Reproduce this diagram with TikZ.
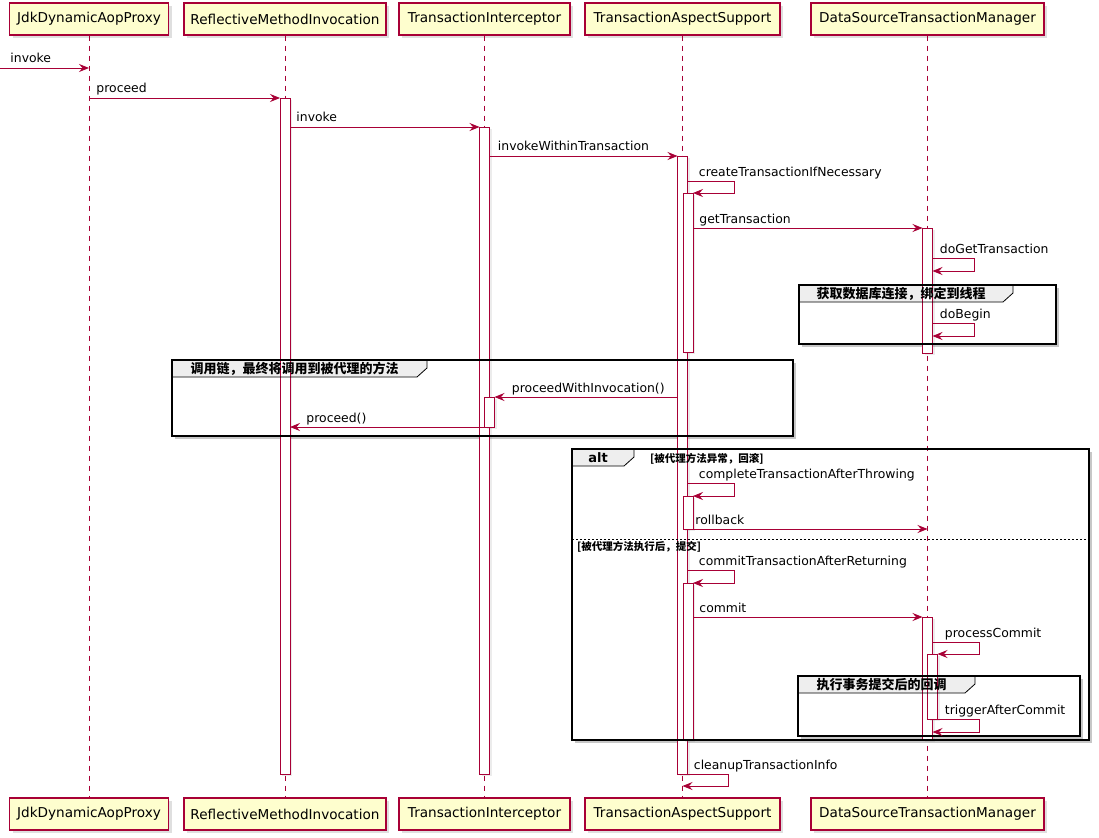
\documentclass[tikz,border=0pt]{standalone}
\usepackage{fontspec}
\setmainfont{DejaVu Sans}
\newfontfamily\cjkfont{Noto Sans CJK SC}
\definecolor{seqred}{HTML}{A80036}
\definecolor{partfill}{HTML}{FEFECE}
\definecolor{tabgrey}{HTML}{EEEEEE}
\usetikzlibrary{arrows.meta}
\usetikzlibrary{calc}
\usetikzlibrary{shadows}
\tikzstyle{part}=[draw=seqred, fill=partfill, line width=1.1pt, minimum height=32pt, inner sep=0pt, font=\fontsize{13.6}{16}\selectfont, drop shadow={shadow xshift=3pt, shadow yshift=-3pt, opacity=0.25}]
\tikzstyle{lifeline}=[draw=seqred, line width=0.7pt, dash pattern=on 5pt off 5pt]
\tikzstyle{actbar}=[draw=seqred, fill=white, line width=0.9pt, minimum width=10pt, inner sep=0pt, outer sep=0pt, drop shadow={shadow xshift=2pt, shadow yshift=-2pt, opacity=0.15}]
\tikzstyle{msg}=[draw=seqred, line width=0.9pt, -{Stealth[length=10pt, width=8pt, inset=3.5pt]}]
\tikzstyle{msglbl}=[anchor=base west, inner sep=0pt, text=black, font=\fontsize{12.4}{14}\selectfont, yshift=5pt]
\tikzstyle{grplbl}=[inner sep=0pt, font=\cjkfont\bfseries\fontsize{13}{15}\selectfont]
\tikzstyle{guard}=[anchor=west, inner sep=0pt, font=\cjkfont\bfseries\fontsize{10.5}{12}\selectfont]
% activation bar: name, x, top, bottom
\newcommand{\actbar}[4]{\node[actbar, minimum height={#4-#3}] (#1) at (#2,{(#3+#4)/2}) {};}
% group background: x0, y0, x1, y1, tab right
\newcommand{\grpback}[5]{%
  \fill[black, opacity=0.22] (#1+3,#2+3) rectangle (#3+3,#4+3);
  \fill[white] (#1,#2) rectangle (#3,#4);
  \fill[tabgrey] (#1,#2) -- (#5,#2) -- (#5,#2+8) -- (#5-10,#2+17) -- (#1,#2+17) -- cycle;}
% group frame: x0, y0, x1, y1, tab right, name, label
\newcommand{\grpframe}[7]{%
  \draw[black, line width=1.5pt] (#1,#2) rectangle (#3,#4);
  \draw[black, line width=0.8pt] (#5,#2) -- (#5,#2+8) -- (#5-10,#2+17) -- (#1,#2+17);
  \node[grplbl] (#6) at ({(#1+#5-10)/2},#2+8.5) {#7};}

\begin{document}
\begin{tikzpicture}[x=1pt, y=-1pt]
    \useasboundingbox (0,0) rectangle (1099,837);

    % group boxes, behind everything
    \grpback{799}{285}{1056}{344}{1013}
    \grpback{172}{360}{793}{436}{427}
    \grpback{572}{449}{1089}{740}{634}
    \grpback{798}{676}{1080}{736}{975}

    % participants
    \node [part, minimum width=159pt] (jdk) at (89,19) {JdkDynamicAopProxy};
    \node [part, minimum width=202pt] (rmi) at (285,19) {ReflectiveMethodInvocation};
    \node [part, minimum width=171pt] (ti) at (484.5,19) {TransactionInterceptor};
    \node [part, minimum width=195pt] (tas) at (682.5,19) {TransactionAspectSupport};
    \node [part, minimum width=233pt] (dstm) at (927.5,19) {DataSourceTransactionManager};
    \node [part, minimum width=159pt] (jdkB) at (89,814) {JdkDynamicAopProxy};
    \node [part, minimum width=202pt] (rmiB) at (285,814) {ReflectiveMethodInvocation};
    \node [part, minimum width=171pt] (tiB) at (484.5,814) {TransactionInterceptor};
    \node [part, minimum width=195pt] (tasB) at (682.5,814) {TransactionAspectSupport};
    \node [part, minimum width=233pt] (dstmB) at (927.5,814) {DataSourceTransactionManager};

    \foreach \p in {jdk, rmi, ti, tas, dstm}
        \draw [lifeline] (\p.south) -- (\p B.north);

    % activations
    \actbar{a1}{285}{98}{774}
    \actbar{a2}{484.5}{127}{774}
    \actbar{a3}{682.5}{156}{774}
    \actbar{a4}{688}{193}{352}
    \actbar{a5}{927.5}{228}{353}
    \actbar{a6}{489.5}{397}{427}
    \actbar{a7}{688}{496}{529}
    \actbar{a8}{688}{583}{740}
    \actbar{a9}{927.5}{617}{740}
    \actbar{a10}{932.5}{654}{719}

    % frames and their labels
    \grpframe{799}{285}{1056}{344}{1013}{g1}{获取数据库连接，绑定到线程}
    \grpframe{172}{360}{793}{436}{427}{g2}{调用链，最终将调用到被代理的方法}
    \grpframe{572}{449}{1089}{740}{634}{g3}{}
    \grpframe{798}{676}{1080}{736}{975}{g4}{执行事务提交后的回调}
    \node [inner sep=0pt, font=\bfseries\fontsize{13}{15}\selectfont] (alt) at (g3) {alt};
    \node [guard] (guard1) at (650,459) {[被代理方法异常，回滚]};
    \draw [black, line width=0.6pt, dash pattern=on 2pt off 2pt] (572,539) -- (1089,539);
    \node [guard] (guard2) at (577,546.5) {[被代理方法执行后，提交]};

    % messages
    \coordinate (entry) at (0,68);
    \draw [msg] (entry) -- (entry -| jdk) node [msglbl, at start, xshift=10pt] (m1) {invoke};
    \draw [msg] (jdk |- a1.north) -- (a1.north west) node [msglbl, at start, xshift=7pt] (m2) {proceed};
    \draw [msg] (a1.east |- a2.north) -- (a2.north west) node [msglbl, at start, xshift=6pt] (m3) {invoke};
    \draw [msg] (a2.east |- a3.north) -- (a3.north west) node [msglbl, at start, xshift=8pt] (m4) {invokeWithinTransaction};
    \draw [msg] ($(a4.north -| a3.east)+(0,-12)$) node [msglbl, xshift=11pt] (m5) {createTransactionIfNecessary} -- ++(47,0) |- (a4.north east);
    \draw [msg] (a4.east |- a5.north) -- (a5.north west) node [msglbl, at start, xshift=6pt] (m6) {getTransaction};
    \coordinate (dgt) at (a5.east |- 0,258);
    \draw [msg] (dgt) node [msglbl, xshift=7pt] (m7) {doGetTransaction} -- ++(42,0) -- ++(0,13) -- ($(dgt)+(0,13)$);
    \coordinate (dbg) at (a5.east |- 0,323);
    \draw [msg] (dbg) node [msglbl, xshift=7pt] (m8) {doBegin} -- ++(42,0) -- ++(0,13) -- ($(dbg)+(0,13)$);
    \draw [msg] (a3.west |- a6.north) -- (a6.north east) node [msglbl, at end, xshift=17pt] (m9) {proceedWithInvocation()};
    \draw [msg] (a6.south west) -- (a1.east |- a6.south) node [msglbl, at end, xshift=16pt] (m10) {proceed()};

    % alt
    \draw [msg] ($(a7.north -| a3.east)+(0,-13)$) node [msglbl, xshift=11pt] (m11) {completeTransactionAfterThrowing} -- ++(47,0) |- (a7.north east);
    \draw [msg] (a7.south east) -- (dstm |- a7.south) node [msglbl, at start, xshift=2pt] (m12) {rollback};
    \draw [msg] ($(a8.north -| a3.east)+(0,-13)$) node [msglbl, xshift=11pt] (m13) {commitTransactionAfterReturning} -- ++(47,0) |- (a8.north east);
    \draw [msg] (a8.east |- a9.north) -- (a9.north west) node [msglbl, at start, xshift=6pt] (m14) {commit};
    \draw [msg] ($(a10.north -| a9.east)+(0,-12)$) node [msglbl, xshift=12pt] (m15) {processCommit} -- ++(47,0) |- (a10.north east);
    \draw [msg] (a10.south east) node [msglbl, xshift=7pt] (m16) {triggerAfterCommit} -- ++(42,0) |- ($(a9.east |- a10.south)+(0,13)$);
    \draw [msg] (a3.south east) node [msglbl, xshift=6pt] (m17) {cleanupTransactionInfo} -- ++(41,0) |- ($(tas |- a3.south)+(0,12)$);
\end{tikzpicture}
\end{document}
